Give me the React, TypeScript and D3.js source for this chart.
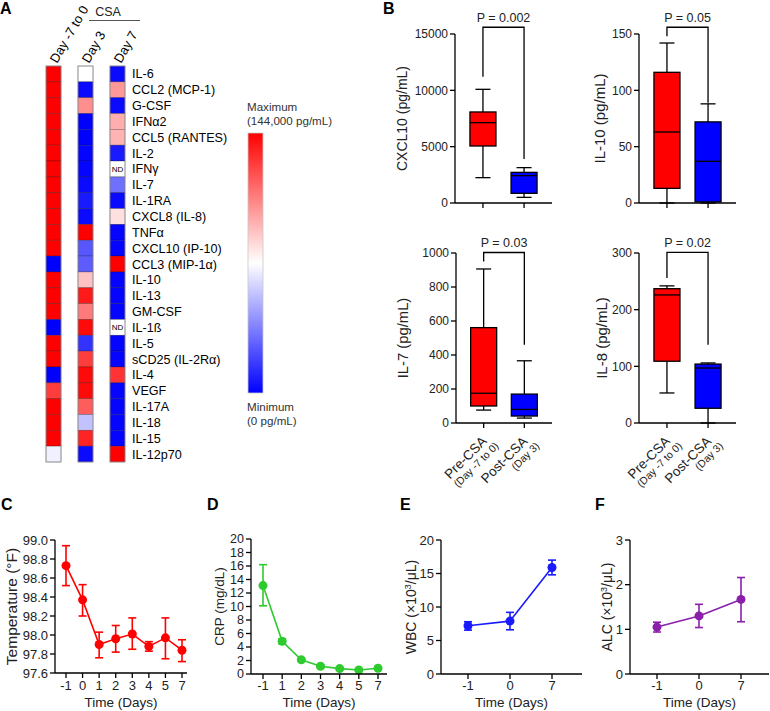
import React from "react";
import * as d3 from "d3";

const FONT = "'Liberation Sans', Arial, Helvetica, sans-serif";

// ---------- Panel A data ----------
const cytokines = [
  "IL-6", "CCL2 (MCP-1)", "G-CSF", "IFNα2", "CCL5 (RANTES)", "IL-2", "IFNγ", "IL-7",
  "IL-1RA", "CXCL8 (IL-8)", "TNFα", "CXCL10 (IP-10)", "CCL3 (MIP-1α)", "IL-10", "IL-13",
  "GM-CSF", "IL-1ß", "IL-5", "sCD25 (IL-2Rα)", "IL-4", "VEGF", "IL-17A", "IL-18", "IL-15", "IL-12p70",
];
const heatColumns = ["Day -7 to 0", "Day 3", "Day 7"];
// relative level: 0 = minimum (blue), 0.5 = white, 1 = maximum (red); null = ND
const levelPre = [1, 1, 1, 1, 1, 1, 1, 1, 1, 1, 1, 1, 0, 1, 1, 1, 0, 1, 1, 0, 0.88, 1, 1, 1, 0.47];
const levelDay3 = [0.5, 0.02, 0.72, 0, 0, 0.01, 0.01, 0.02, 0.05, 0.02, 1, 0.17, 0.18, 0.62, 0.95, 0.76, 0.98, 0.1, 0.88, 0.98, 0.98, 0.82, 0.38, 0.93, 0.02];
const levelDay7 = [0.02, 0.7, 0.02, 0.66, 0.65, 0.05, null, 0.22, 0.02, 0.56, 0.01, 0.01, 1, 0.01, 0.01, 0.01, null, 0.01, 0.01, 0.9, 0.01, 0.01, 0.01, 0.01, 1];
const heatLevels = [levelPre, levelDay3, levelDay7];

// ---------- Panel B data: [min, q1, median, q3, max] ----------
const boxGroups = ["Pre-CSA", "Post-CSA"];
const boxSubLabels = ["(Day -7 to 0)", "(Day 3)"];
const cxcl10Pre = [2250, 5060, 7130, 8080, 10090];
const cxcl10Post = [500, 860, 2430, 2720, 3140];
const il10Pre = [0, 13, 63, 116, 142];
const il10Post = [0, 1, 37, 72, 88];
const il7Pre = [76, 100, 175, 561, 906];
const il7Post = [29, 41, 80, 170, 366];
const il8Pre = [53, 109, 226, 237, 242];
const il8Post = [0, 26, 97, 104, 106];

// ---------- Panels C-F data ----------
const tempDays = ["-1", "0", "1", "2", "3", "4", "5", "7"];
const tempMean = [98.73, 98.37, 97.9, 97.96, 98.01, 97.88, 97.97, 97.84];
const tempLow = [98.52, 98.2, 97.76, 97.82, 97.85, 97.83, 97.75, 97.72];
const tempHigh = [98.94, 98.53, 98.03, 98.1, 98.18, 97.93, 98.18, 97.95];

const crpDays = ["-1", "1", "2", "3", "4", "5", "7"];
const crpMean = [13.1, 4.85, 2.1, 1.15, 0.8, 0.6, 0.85];
const crpLow = [10.1, 4.45, 1.9, 0.95, 0.65, 0.45, 0.65];
const crpHigh = [16.2, 5.2, 2.3, 1.35, 0.95, 0.75, 1.05];

const bloodDays = ["-1", "0", "7"];
const wbcMean = [7.2, 7.9, 15.9];
const wbcLow = [6.55, 6.6, 14.8];
const wbcHigh = [7.8, 9.2, 17.0];
const alcMean = [1.05, 1.3, 1.67];
const alcLow = [0.94, 1.04, 1.17];
const alcHigh = [1.16, 1.56, 2.16];

const heatColor = d3.scaleLinear<string>().domain([0, 0.5, 1]).range(["#0000ff", "#ffffff", "#ff0000"]);

function PanelLetter({ x, y, t }: { x: number; y: number; t: string }) {
  return (
    <text x={x} y={y} fontSize={16} fontWeight="bold" fill="#000">{t}</text>
  );
}

function Heatmap() {
  const x = d3.scaleBand().domain(heatColumns).range([46, 125]).paddingInner(0.53);
  const y = d3.scaleBand().domain(cytokines).range([66, 462]);
  const bw = x.bandwidth();
  return (
    <g>
      {heatColumns.map((c, ci) => (
        <g key={c}>
          {cytokines.map((k, ri) => {
            const v = heatLevels[ci][ri];
            return (
              <g key={k}>
                <rect x={x(c)} y={y(k)} width={bw} height={y.bandwidth()}
                  fill={v === null ? "#fff" : heatColor(v)}
                  stroke="rgba(0,0,0,0.35)" strokeWidth={0.7} />
                {v === null && (
                  <text x={(x(c) as number) + bw / 2} y={(y(k) as number) + y.bandwidth() / 2} dy="0.35em"
                    textAnchor="middle" fontSize={8} fill="#000">ND</text>
                )}
              </g>
            );
          })}
          <rect x={x(c)} y={66} width={bw} height={396} fill="none" stroke="#999" strokeWidth={0.8} />
          <text transform={`translate(${(x(c) as number) + bw / 2 + 3.5},64) rotate(-60)`} fontSize={13} fill="#000">{c}</text>
        </g>
      ))}
      {cytokines.map((k) => (
        <text key={k} x={132} y={(y(k) as number) + y.bandwidth() / 2} dy="0.36em" fontSize={12.6} fill="#000">{k}</text>
      ))}
      <text x={108} y={16} textAnchor="middle" fontSize={12.5} fill="#222">CSA</text>
      <line x1={89} x2={140} y1={20.5} y2={20.5} stroke="#555" strokeWidth={1.2} />
      {/* colour bar */}
      <defs>
        <linearGradient id="cbar" x1="0" y1="0" x2="0" y2="1">
          <stop offset="0" stopColor="#ff0000" />
          <stop offset="0.5" stopColor="#ffffff" />
          <stop offset="1" stopColor="#0000ff" />
        </linearGradient>
      </defs>
      <rect x={248} y={133} width={15} height={260} fill="url(#cbar)" stroke="#c8c8c8" strokeWidth={0.8} />
      <text x={247} y={111} fontSize={11.6} fill="#333">Maximum</text>
      <text x={247} y={124.5} fontSize={11.6} fill="#333">(144,000 pg/mL)</text>
      <text x={247} y={411} fontSize={11.6} fill="#333">Minimum</text>
      <text x={247} y={425} fontSize={11.6} fill="#333">(0 pg/mL)</text>
    </g>
  );
}

type BoxProps = {
  x0: number; x1: number; yTop: number; yBot: number; yMax: number; ticks: number[];
  yLabel: string; labelX: number; labelFont: number; pre: number[]; post: number[];
  bracket: [number, number, number]; pText: string; showCats: boolean;
};

function BoxPanel(p: BoxProps) {
  const y = d3.scaleLinear().domain([0, p.yMax]).range([p.yBot, p.yTop]);
  const x = d3.scalePoint().domain(boxGroups).range([p.x0, p.x1]).padding(0.68);
  const bw = 26;
  const sw = 1.3;
  const data = [p.pre, p.post];
  const fills = ["#ff0000", "#0000ff"];
  const bx = (g: string) => x(g) as number;
  const [bTop, bL, bR] = p.bracket;
  return (
    <g>
      {boxGroups.map((g, i) => {
        const [mn, q1, md, q3, mx] = data[i];
        const cx = bx(g);
        return (
          <g key={g}>
            <line x1={cx} x2={cx} y1={y(mx)} y2={y(q3)} stroke="#000" strokeWidth={sw} />
            <line x1={cx} x2={cx} y1={y(q1)} y2={y(mn)} stroke="#000" strokeWidth={sw} />
            <line x1={cx - 7.5} x2={cx + 7.5} y1={y(mx)} y2={y(mx)} stroke="#000" strokeWidth={sw} />
            <line x1={cx - 7.5} x2={cx + 7.5} y1={y(mn)} y2={y(mn)} stroke="#000" strokeWidth={sw} />
            <rect x={cx - bw / 2} y={y(q3)} width={bw} height={y(q1) - y(q3)} fill={fills[i]} stroke="#000" strokeWidth={sw} />
            <line x1={cx - bw / 2} x2={cx + bw / 2} y1={y(md)} y2={y(md)} stroke="#000" strokeWidth={sw} />
          </g>
        );
      })}
      {/* axes */}
      <line x1={p.x0} x2={p.x0} y1={p.yTop} y2={p.yBot} stroke="#000" strokeWidth={sw} />
      <line x1={p.x0} x2={p.x1} y1={p.yBot} y2={p.yBot} stroke="#000" strokeWidth={sw} />
      {p.ticks.map((t) => (
        <g key={t}>
          <line x1={p.x0 - 5} x2={p.x0} y1={y(t)} y2={y(t)} stroke="#000" strokeWidth={sw} />
          <text x={p.x0 - 7} y={y(t)} dy="0.35em" textAnchor="end" fontSize={12} fill="#222">{t}</text>
        </g>
      ))}
      {boxGroups.map((g) => (
        <line key={g} x1={bx(g)} x2={bx(g)} y1={p.yBot} y2={p.yBot + 5} stroke="#000" strokeWidth={sw} />
      ))}
      {p.showCats && boxGroups.map((g, i) => (
        <g key={g} transform={`translate(${bx(g) + 4},${p.yBot + 19}) rotate(-45)`}>
          <text x={0} y={0} textAnchor="end" fontSize={13.5} fill="#222">{g}</text>
          <text x={5} y={11.5} textAnchor="end" fontSize={10.5} fill="#222">{boxSubLabels[i]}</text>
        </g>
      ))}
      {/* significance bracket */}
      <path d={`M${bx(boxGroups[0])},${y(bL)}V${y(bTop)}H${bx(boxGroups[1])}V${y(bR)}`} fill="none" stroke="#000" strokeWidth={sw} />
      <text x={(bx(boxGroups[0]) + bx(boxGroups[1])) / 2} y={y(bTop) - 5} textAnchor="middle" fontSize={12.5} fill="#222">{p.pText}</text>
      <text transform={`translate(${p.labelX},${(p.yTop + p.yBot) / 2}) rotate(-90)`} dy="0.35em" textAnchor="middle" fontSize={p.labelFont} fill="#222">{p.yLabel}</text>
    </g>
  );
}

type LineProps = {
  x0: number; x1: number; xFirst: number; xLast: number; days: string[];
  mean: number[]; low: number[]; high: number[]; yTop: number; yBot: number;
  domain: [number, number]; ticks: number[]; fmt: (v: number) => string;
  color: string; yLabel: React.ReactNode; labelX: number; labelFont: number; tickFont: number;
};

function LinePanel(p: LineProps) {
  const x = d3.scalePoint().domain(p.days).range([p.xFirst, p.xLast]);
  const y = d3.scaleLinear().domain(p.domain).range([p.yBot, p.yTop]);
  const sw = 1.3;
  const line = d3.line<number>().x((_, i) => x(p.days[i]) as number).y((d) => y(d));
  return (
    <g>
      <path d={line(p.mean) || ""} fill="none" stroke={p.color} strokeWidth={1.6} />
      {p.days.map((d, i) => {
        const cx = x(d) as number;
        return (
          <g key={d}>
            <line x1={cx} x2={cx} y1={y(p.high[i])} y2={y(p.low[i])} stroke={p.color} strokeWidth={1.6} />
            <line x1={cx - 4} x2={cx + 4} y1={y(p.high[i])} y2={y(p.high[i])} stroke={p.color} strokeWidth={1.6} />
            <line x1={cx - 4} x2={cx + 4} y1={y(p.low[i])} y2={y(p.low[i])} stroke={p.color} strokeWidth={1.6} />
            <circle cx={cx} cy={y(p.mean[i])} r={4.5} fill={p.color} />
          </g>
        );
      })}
      <line x1={p.x0} x2={p.x0} y1={p.yTop} y2={p.yBot} stroke="#000" strokeWidth={sw} />
      <line x1={p.x0} x2={p.x1} y1={p.yBot} y2={p.yBot} stroke="#000" strokeWidth={sw} />
      {p.ticks.map((t) => (
        <g key={t}>
          <line x1={p.x0 - 5} x2={p.x0} y1={y(t)} y2={y(t)} stroke="#000" strokeWidth={sw} />
          <text x={p.x0 - 7} y={y(t)} dy="0.35em" textAnchor="end" fontSize={p.tickFont} fill="#222">{p.fmt(t)}</text>
        </g>
      ))}
      {p.days.map((d) => (
        <g key={d}>
          <line x1={x(d)} x2={x(d)} y1={p.yBot} y2={p.yBot + 5} stroke="#000" strokeWidth={sw} />
          <text x={x(d)} y={685} dy="0.35em" textAnchor="middle" fontSize={13} fill="#222">{d}</text>
        </g>
      ))}
      <text x={(p.x0 + p.x1) / 2} y={702} dy="0.35em" textAnchor="middle" fontSize={13.5} fill="#222">Time (Days)</text>
      <text transform={`translate(${p.labelX},${(p.yTop + p.yBot) / 2}) rotate(-90)`} dy="0.35em" textAnchor="middle" fontSize={p.labelFont} fill="#222">{p.yLabel}</text>
    </g>
  );
}

const range = (a: number, b: number, s: number) => d3.range(a, b + s / 2, s);

export default function App() {
  return (
    <svg width={770} height={711} style={{ position: "absolute", left: 0, top: 0, background: "#fff" }} fontFamily={FONT}>
      <rect width={770} height={711} fill="#fff" />
      <PanelLetter x={0} y={14} t="A" />
      <Heatmap />

      <PanelLetter x={383} y={14} t="B" />
      <BoxPanel x0={455} x1={552} yTop={34} yBot={203} yMax={15000} ticks={[0, 5000, 10000, 15000]}
        yLabel="CXCL10 (pg/mL)" labelX={402.5} labelFont={14} pre={cxcl10Pre} post={cxcl10Post}
        bracket={[15600, 11200, 3900]} pText="P = 0.002" showCats={false} />
      <BoxPanel x0={639} x1={736} yTop={34} yBot={203} yMax={150} ticks={[0, 50, 100, 150]}
        yLabel="IL-10 (pg/mL)" labelX={600} labelFont={15} pre={il10Pre} post={il10Post}
        bracket={[156, 148, 89]} pText="P = 0.05" showCats={false} />
      <BoxPanel x0={456} x1={552} yTop={253} yBot={423} yMax={1000} ticks={[0, 200, 400, 600, 800, 1000]}
        yLabel="IL-7 (pg/mL)" labelX={403} labelFont={14.8} pre={il7Pre} post={il7Post}
        bracket={[1003, 950, 460]} pText="P = 0.03" showCats={true} />
      <BoxPanel x0={639} x1={736} yTop={253} yBot={423} yMax={300} ticks={[0, 100, 200, 300]}
        yLabel="IL-8 (pg/mL)" labelX={602} labelFont={15} pre={il8Pre} post={il8Post}
        bracket={[301, 256, 138]} pText="P = 0.02" showCats={true} />

      <PanelLetter x={1} y={510} t="C" />
      <LinePanel x0={55} x1={187} xFirst={66} xLast={182} days={tempDays} mean={tempMean} low={tempLow} high={tempHigh}
        yTop={540} yBot={673} domain={[97.6, 99.0]} ticks={range(97.6, 99.0, 0.2)} fmt={d3.format(".1f")}
        color="#ff0000" yLabel="Temperature (°F)" labelX={12} labelFont={15.5} tickFont={13} />

      <PanelLetter x={207} y={510} t="D" />
      <LinePanel x0={251} x1={387} xFirst={263} xLast={378} days={crpDays} mean={crpMean} low={crpLow} high={crpHigh}
        yTop={539} yBot={674} domain={[0, 20]} ticks={range(0, 20, 2)} fmt={d3.format("d")}
        color="#2ecb2e" yLabel="CRP (mg/dL)" labelX={219} labelFont={13.5} tickFont={12.5} />

      <PanelLetter x={400} y={510} t="E" />
      <LinePanel x0={441} x1={582} xFirst={468} xLast={552} days={bloodDays} mean={wbcMean} low={wbcLow} high={wbcHigh}
        yTop={540} yBot={674} domain={[0, 20]} ticks={range(0, 20, 5)} fmt={d3.format("d")}
        color="#1a1aff" yLabel={<>WBC (×10<tspan fontSize={9} dy={-5}>3</tspan><tspan dy={5}>/μL)</tspan></>} labelX={411} labelFont={14} tickFont={13} />

      <PanelLetter x={595} y={510} t="F" />
      <LinePanel x0={630} x1={769} xFirst={657} xLast={741} days={bloodDays} mean={alcMean} low={alcLow} high={alcHigh}
        yTop={540} yBot={674} domain={[0, 3]} ticks={range(0, 3, 1)} fmt={d3.format("d")}
        color="#8a1faa" yLabel={<>ALC (×10<tspan fontSize={9} dy={-5}>3</tspan><tspan dy={5}>/μL)</tspan></>} labelX={607.5} labelFont={14} tickFont={13} />
    </svg>
  );
}
